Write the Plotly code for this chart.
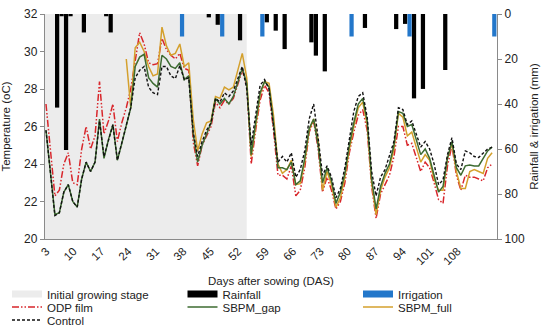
import plotly.graph_objects as go

# ---------------- data ----------------
day_labels = ["3", "10", "17", "24", "31", "38", "45", "52", "59", "66",
              "73", "80", "87", "94", "101", "108"]
# category positions of the day labels and of the axis tick marks
label_pos = [0.2, 6.3, 12.5, 18.6, 24.8, 30.9, 37.1, 43.2, 49.4, 55.5,
             61.7, 67.8, 74.0, 80.1, 86.3, 92.4]
tick_pos = [0, 5.6, 11.1, 16.7, 22.2, 27.8, 33.3, 38.9, 44.4, 50.0, 55.5,
            61.1, 66.6, 72.2, 77.7, 83.3, 88.8, 94.4, 99.9]

control = [25.8, 23.5, 21.25, 21.4, 22.5, 22.9, 22.0, 21.7, 23.2, 24.1,
           23.6, 24.1, 26.3, 24.4, 25.3, 26.1, 24.2, 25.1, 26.0, 27.0,
           28.6, 29.0, 29.2, 28.1, 27.8, 27.7, 29.2, 29.2, 28.7, 28.55,
           29.25, 28.5, 28.6, 25.7, 24.4, 25.2, 25.8, 26.2, 27.5, 27.3,
           27.8, 27.6, 27.9, 28.6, 29.2, 28.0, 25.0, 26.6, 28.2, 28.5,
           28.0, 26.0, 24.1, 24.4, 24.1, 24.6, 23.3, 23.7, 24.7, 26.4,
           27.2, 25.4, 23.4, 23.9, 23.3, 22.2, 22.7, 23.8, 25.4, 26.8,
           27.6, 27.8, 26.5, 23.6, 22.3, 23.3, 23.7, 24.4, 25.2, 27.0,
           26.9, 26.1, 26.3, 25.6, 24.9, 25.2, 24.8, 24.0, 22.9, 23.15,
           24.5, 25.4, 24.0, 23.7, 24.7, 24.6, 24.4, 24.35, 24.6, 24.8,
           24.9]

sbpm_gap = [25.8, 23.5, 21.3, 21.4, 22.5, 22.9, 22.0, 21.7, 23.2, 24.1,
            23.6, 24.1, 26.4, 24.3, 25.3, 26.1, 24.2, 25.1, 26.0, 27.0,
            29.2, 29.7, 29.85, 28.6, 28.3, 28.1, 29.8, 29.6, 29.2, 29.1,
            29.4, 28.5, 28.7, 25.6, 24.1, 25.0, 25.6, 26.2, 27.5, 27.2,
            27.5, 27.2, 27.6, 28.4, 29.1, 28.3, 24.5, 26.2, 27.8, 28.4,
            28.1, 26.2, 23.8, 23.8, 23.7, 24.1, 22.9, 23.1, 24.3, 25.9,
            26.4, 25.0, 23.0, 23.8, 23.1, 21.9, 22.5, 23.5, 25.0, 26.2,
            27.2, 27.5, 26.3, 23.2, 21.6, 22.8, 23.5, 24.0, 25.0, 26.8,
            26.7, 26.0, 26.1, 25.3, 24.5, 24.8, 24.3, 23.4, 22.5, 22.8,
            24.3, 25.2, 23.8, 23.4, 23.9, 23.95, 23.9, 23.9, 24.3, 24.7,
            24.9]

sbpm_full = [None, None, None, None, None, None, None, None, None, None,
             None, None, None, None, None, None, None, None, 29.6, 27.0,
             30.2, 30.5, 30.0, 29.2, 28.7, 28.8, 31.3, 30.3, 29.8, 29.9,
             30.4, 29.2, 29.4, 26.4, 24.7, 25.6, 26.2, 26.3, 27.6, 27.5,
             28.1, 27.95, 28.1, 29.0, 29.9, 28.6, 24.4, 26.0, 27.7, 28.4,
             28.3, 26.6, 24.0, 23.5, 23.7, 24.2, 22.9, 22.95, 24.1, 25.8,
             26.4, 25.3, 22.6, 23.6, 22.9, 21.7, 22.2, 23.3, 24.8, 26.0,
             27.0, 27.3, 26.1, 23.0, 21.3, 22.6, 23.3, 23.8, 24.8, 26.7,
             26.5, 25.5, 25.7, 24.9, 24.1, 24.5, 24.2, 23.2, 22.6, 22.6,
             24.3, 25.1, 23.6, 22.7, 22.7, 23.6, 23.7, 23.6, 23.5, 24.3,
             24.6]

odp_film = [27.2, 24.8, 22.3, 22.6, 24.0, 24.6, 23.0, 22.9, 24.8, 26.0,
            24.8, 25.5, 28.4, 25.6, 26.3, 27.2, 25.2, 26.2, 27.0, 28.0,
            29.6, 31.0, 30.4, 29.4, 29.3, 29.35, 30.7, 30.1, 29.8, 29.6,
            29.9, 29.1, 29.0, 25.2, 23.9, 25.0, 25.5, 26.0, 27.3, 27.0,
            27.4, 27.2, 27.5, 28.3, 29.0, 28.2, 24.0, 25.8, 27.4, 28.2,
            27.8, 25.8, 23.4, 23.4, 23.2, 23.9, 22.3, 22.6, 23.8, 25.7,
            26.3, 24.8, 22.5, 23.3, 22.6, 21.6, 22.0, 23.0, 24.6, 25.7,
            26.6, 26.9, 25.8, 22.8, 21.1, 22.4, 22.9, 23.4, 24.4, 26.0,
            26.0, 25.0, 25.1, 24.4, 23.6, 24.1, 23.8, 23.0, 22.1, 21.9,
            23.9, 25.0, 23.4, 22.6, 23.4, 23.3, 23.3, 23.2, 23.1, 23.8,
            24.0]

rain_idx = [2, 3, 4, 5, 8, 13, 14, 36, 38, 43, 49, 51, 53, 59, 60, 62,
            71, 78, 80, 82, 84, 89]
rain_mm = [41.6, 1.0, 60.4, 1.0, 8.2, 1.0, 8.2, 1.5, 4.8, 11.7, 3.7, 7.4,
           15.6, 12.6, 18.5, 25.5, 6.2, 6.7, 4.4, 37.5, 33.3, 24.9]

irr_idx = [30, 39, 48, 68, 81, 100]
irr_mm = [10, 10, 10, 10, 10, 10]

stage_end_idx = 45

# ---------------- styling ----------------
FONT = "Liberation Sans, Arial, sans-serif"
AXC = "#8a8a8a"
RED = "#d8262b"
GREEN = "#3d6b31"
GOLD = "#d4a02c"
BLUE = "#2377ca"
SHADE = "#ececec"
RED_DASH = "7px,2px,1.5px,2px,1.5px,2px"
BLK_DASH = "3px,2px"

x = list(range(len(control)))
x_range = [-0.22, 101.1]

fig = go.Figure()

fig.add_trace(go.Bar(x=rain_idx, y=rain_mm, yaxis="y2", marker_color="black",
                     marker_line_width=0, width=0.95, offset=0.025,
                     showlegend=False, name="Rainfall"))
fig.add_trace(go.Bar(x=irr_idx, y=irr_mm, yaxis="y2", marker_color=BLUE,
                     marker_line_width=0, width=0.95, offset=0.025,
                     showlegend=False, name="Irrigation"))

fig.add_trace(go.Scatter(x=x, y=odp_film, mode="lines", showlegend=False,
                         line=dict(color=RED, width=1.5, dash=RED_DASH)))
fig.add_trace(go.Scatter(x=x, y=sbpm_full, mode="lines", showlegend=False,
                         line=dict(color=GOLD, width=1.5)))
fig.add_trace(go.Scatter(x=x, y=sbpm_gap, mode="lines", showlegend=False,
                         line=dict(color=GREEN, width=1.5)))
fig.add_trace(go.Scatter(x=x, y=control, mode="lines", showlegend=False,
                         line=dict(color="#111111", width=1.4, dash=BLK_DASH)))


def proxy(name, legend, lw=None, **line):
    fig.add_trace(go.Scatter(x=[None], y=[None], mode="lines", name=name,
                             legend=legend, legendwidth=lw, line=line,
                             hoverinfo="skip"))


proxy("Initial growing stage", "legend", color=SHADE, width=7)
proxy("Rainfall", "legend", color="black", width=7)
proxy("Irrigation", "legend", lw=70, color=BLUE, width=7)
proxy("ODP film", "legend2", color=RED, width=1.5, dash=RED_DASH)
proxy("SBPM_gap", "legend2", color=GREEN, width=1.5)
proxy("SBPM_full", "legend2", lw=70, color=GOLD, width=1.5)
proxy("Control", "legend3", lw=70, color="#111111", width=1.4, dash=BLK_DASH)

fig.add_shape(type="rect", xref="x", yref="paper", x0=x_range[0], x1=stage_end_idx,
              y0=0, y1=1, fillcolor=SHADE, line_width=0, layer="below")

PW, PH = 452.0, 225.0


def leg(ypx):
    return dict(orientation="h", x=(7 - 45) / PW, xanchor="left",
                y=(239 - ypx) / PH, yanchor="middle", entrywidth=130.5,
                entrywidthmode="pixels", itemwidth=30, bgcolor="rgba(0,0,0,0)",
                font=dict(family=FONT, size=11.5, color="#222"),
                traceorder="normal", tracegroupgap=0, borderwidth=0)


fig.update_layout(
    width=550, height=332,
    margin=dict(l=45, r=53, t=14, b=93, autoexpand=False),
    paper_bgcolor="white", plot_bgcolor="white",
    font=dict(family=FONT, size=12, color="#222"),
    barmode="overlay",
    legend=leg(294), legend2=leg(307), legend3=leg(320),
    xaxis=dict(range=x_range, tickmode="array", tickvals=label_pos,
               ticktext=day_labels, tickangle=-45, ticks="",
               ticklabelposition="outside left",
               showline=True, linecolor=AXC, linewidth=1.3,
               showgrid=False, zeroline=False, automargin=False,
               tickfont=dict(size=11.5),
               title=dict(text="Days after sowing (DAS)", standoff=10,
                          font=dict(size=11.5))),
    xaxis2=dict(overlaying="x", anchor="y", side="bottom", range=x_range,
                tickmode="array", tickvals=tick_pos, ticks="outside",
                ticklen=4, tickcolor=AXC, showticklabels=False,
                showline=False, showgrid=False, zeroline=False,
                automargin=False),
    yaxis=dict(range=[20, 32], dtick=2, ticks="outside", ticklen=4,
               tickcolor=AXC, showline=True, linecolor=AXC, linewidth=1.3,
               showgrid=False, zeroline=False, automargin=False,
               tickfont=dict(size=12),
               title=dict(text="Temperature (oC)", standoff=14,
                          font=dict(size=11.5))),
    yaxis2=dict(overlaying="y", side="right", range=[100, 0],
                tickvals=[0, 20, 40, 60, 80, 100], ticks="outside", ticklen=4,
                tickcolor=AXC, showline=True, linecolor=AXC, linewidth=1.3,
                showgrid=False, zeroline=False, automargin=False,
                tickfont=dict(size=12),
                title=dict(text="Rainfall & irrigation (mm)", standoff=6,
                           font=dict(size=11.5))),
)

fig.write_html("out.html", config={"displayModeBar": False},
               post_script="document.body.style.margin = '0px';")
